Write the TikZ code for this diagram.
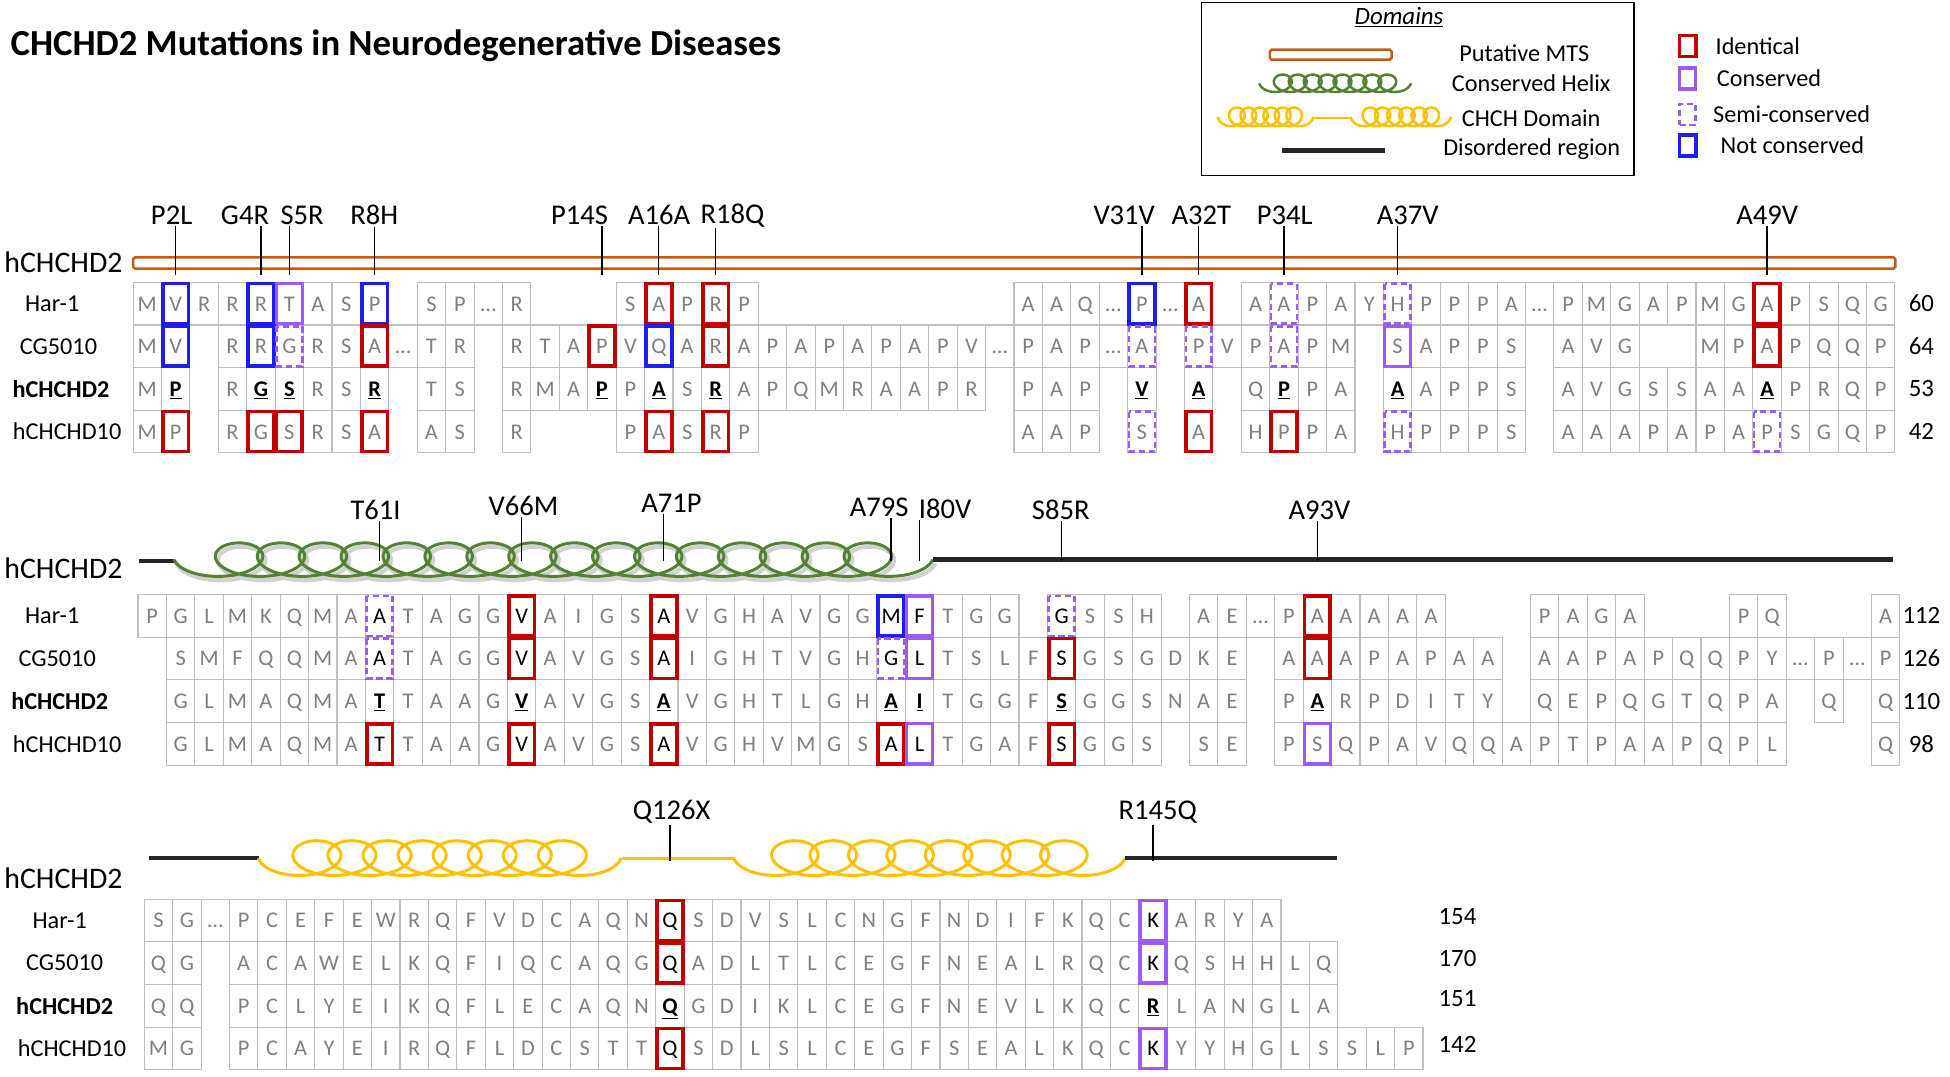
\documentclass[tikz,border=0pt]{standalone}
\usepackage{fontspec}
\setmainfont{Carlito}
\usepackage{etoolbox}
\usepackage{tikz}

\definecolor{idred}{HTML}{C00000}
\definecolor{consp}{HTML}{9A5CF5}
\definecolor{ncblue}{HTML}{1E1EF0}
\definecolor{cellgray}{HTML}{BFBFBF}
\definecolor{seqgray}{HTML}{808080}
\definecolor{mtsorange}{HTML}{C55A11}
\definecolor{helixgreen}{HTML}{548235}
\definecolor{chchyellow}{HTML}{FFC000}

\newcommand\mutres[1]{\textcolor{black}{\textbf{\underline{#1}}}}
\newcommand\boxres[1]{\textcolor{black}{#1}}
\newcommand\seqrow[4]{%
  \foreach \ch [count=\i from 0] in {#4}{%
    \ifdefstring{\ch}{-}{}{\node[cell] (#1c\i) at ({#2+(\i+0.5)*22.85},#3) {\ch};}%
  }}
\newcommand\hlcell[2]{\draw[#1] ([shift={(1.5pt,-1.5pt)}]#2.north west) rectangle ([shift={(-1.5pt,1.5pt)}]#2.south east);}
\newcommand\coil[8]{\draw[#1] plot[domain=-90:#7, samples=#8] ({#2+\x/360*#4+#5*sin(\x)},{#3+#6*cos(\x)});}

\tikzset{
  cell/.style={draw=cellgray, line width=0.9pt, minimum width=22.85pt, minimum height=34.3pt,
    inner sep=0pt, text height=12pt, text depth=0pt, text=seqgray, font=\fontsize{18}{18}\selectfont},
  rowlab/.style={font=\fontsize{19.5}{20}\selectfont},
  blocklab/.style={anchor=west, font=\fontsize{24}{24}\selectfont},
  mutlab/.style={inner sep=1pt, font=\fontsize{23}{23}\selectfont},
  mutline/.style={black, line width=1.1pt},
  numlab/.style={font=\fontsize{20}{20}\selectfont},
  keytext/.style={anchor=west, font=\fontsize{19.5}{20}\selectfont},
  idbox/.style={draw=idred, line width=3pt},
  consbox/.style={draw=consp, line width=2.8pt},
  semibox/.style={draw=consp, line width=2pt, dash pattern=on 5pt off 3pt},
  ncbox/.style={draw=ncblue, line width=3pt},
  mtsbar/.style={draw=mtsorange, line width=2pt, rounded corners=1.5pt, inner sep=0pt},
  greencoil/.style={helixgreen, line width=2.4pt, line join=round},
  greenshadow/.style={black!18, line width=3.5pt, line join=round},
  yellowcoil/.style={chchyellow, line width=2.4pt, line join=round},
  disline/.style={black!85, line width=3.5pt}
}

\begin{document}
\begin{tikzpicture}[x=1pt, y=-1pt]
\useasboundingbox (0,0) rectangle (1568,866);

\node[anchor=west, font=\fontsize{29.5}{29.5}\selectfont\bfseries] (title) at (5,37) {CHCHD2 Mutations in Neurodegenerative Diseases};

\node[draw, line width=1.3pt, minimum width=348pt, minimum height=139pt, inner sep=0pt] (legend) at (1140,71.5) {};
\node[font=\fontsize{20}{20}\selectfont] (domains) at (1125,14) {\underline{\textit{Domains}}};
\node[mtsbar, minimum width=98pt, minimum height=8pt] (keymts) at (1070,44) {};
\node[keytext] (keymtsl) at (1170,43) {Putative MTS};
\coil{greencoil, line width=2pt}{1025.5}{67}{12}{10}{7}{2970}{340}
\node[keytext] (keyhelixl) at (1164,67) {Conserved Helix};
\coil{yellowcoil, line width=2pt}{990}{94}{9.2}{8.5}{7.5}{2250}{260}
\draw[yellowcoil, line width=2pt] (1056,95) -- (1086,95);
\coil{yellowcoil, line width=2pt}{1097}{94}{9.8}{8.5}{7.5}{2250}{260}
\node[keytext] (keychchl) at (1172,95) {CHCH Domain};
\draw[disline] (1031,121) -- (1114,121);
\node[keytext] (keydisl) at (1157,120) {Disordered region};

\node[idbox, minimum width=13pt, minimum height=17pt] (keyid) at (1357,37) {};
\node[keytext] (keyidl) at (1376,37) {Identical};
\node[consbox, minimum width=13pt, minimum height=17pt] (keycons) at (1357,63) {};
\node[keytext] (keyconsl) at (1377,63) {Conserved};
\node[semibox, minimum width=13pt, minimum height=17pt] (keysemi) at (1357,92) {};
\node[keytext] (keysemil) at (1374,92) {Semi-conserved};
\node[ncbox, minimum width=13pt, minimum height=17pt] (keync) at (1357,117) {};
\node[keytext] (keyncl) at (1380,117) {Not conserved};

\node[blocklab] (hd1) at (0,211) {hCHCHD2};
\node[mtsbar, minimum width=1417pt, minimum height=9pt] (mts) at (815.5,211.5) {};
\coordinate (mtsbot) at (0,221);
\node[rowlab] (lh1) at (42,244.15) {Har-1};
\node[rowlab] (lc1) at (47,278.45) {CG5010};
\node[rowlab, font=\fontsize{19.5}{20}\selectfont\bfseries] (ld1) at (49,312.75) {hCHCHD2};
\node[rowlab] (lt1) at (54,347.05) {hCHCHD10};
\seqrow{b1r0}{107}{244.15}{M,V,R,R,R,T,A,S,P,-,S,P,…,R,-,-,-,S,A,P,R,P,-,-,-,-,-,-,-,-,-,A,A,Q,…,P,…,A,-,A,A,P,A,Y,H,P,P,P,A,…,P,M,G,A,P,M,G,A,P,S,Q,G}
\seqrow{b1r1}{107}{278.45}{M,V,-,R,R,G,R,S,A,…,T,R,-,R,T,A,P,V,Q,A,R,A,P,A,P,A,P,A,P,V,…,P,A,P,…,A,-,P,V,P,A,P,M,-,S,A,P,P,S,-,A,V,G,-,-,M,P,A,P,Q,Q,P}
\seqrow{b1r2}{107}{312.75}{M,\mutres P,-,R,\mutres G,\mutres S,R,S,\mutres R,-,T,S,-,R,M,A,\mutres P,P,\mutres A,S,\mutres R,A,P,Q,M,R,A,A,P,R,-,P,A,P,-,\mutres V,-,\mutres A,-,Q,\mutres P,P,A,-,\mutres A,A,P,P,S,-,A,V,G,S,S,A,A,\mutres A,P,R,Q,P}
\seqrow{b1r3}{107}{347.05}{M,P,-,R,G,S,R,S,A,-,A,S,-,R,-,-,-,P,A,S,R,P,-,-,-,-,-,-,-,-,-,A,A,P,-,S,-,A,-,H,P,P,A,-,H,P,P,P,S,-,A,A,A,P,A,P,A,P,S,G,Q,P}
\foreach \col in {1,4,8,35} {\hlcell{ncbox}{b1r0c\col}}
\hlcell{consbox}{b1r0c5}
\foreach \col in {40,44} {\hlcell{semibox}{b1r0c\col}}
\foreach \col in {18,20,37,57} {\hlcell{idbox}{b1r0c\col}}
\foreach \col in {1,4,18} {\hlcell{ncbox}{b1r1c\col}}
\foreach \col in {5,35,37,40} {\hlcell{semibox}{b1r1c\col}}
\foreach \col in {8,16,20,57} {\hlcell{idbox}{b1r1c\col}}
\hlcell{consbox}{b1r1c44}
\foreach \col in {1,4,5,8,18,20,37,40} {\hlcell{idbox}{b1r3c\col}}
\foreach \col in {35,44,57} {\hlcell{semibox}{b1r3c\col}}
\node[numlab] (n1a) at (1545,244.15) {60};
\node[numlab] (n1b) at (1545,278.45) {64};
\node[numlab] (n1c) at (1545,312.75) {53};
\node[numlab] (n1d) at (1545,347.05) {42};
\node[mutlab] (mP2L) at (138,173) {P2L};
\node[mutlab] (mG4R) at (197,173) {G4R};
\node[mutlab] (mS5R) at (243,173) {S5R};
\node[mutlab] (mR8H) at (301,173) {R8H};
\node[mutlab] (mP14S) at (466,173) {P14S};
\node[mutlab] (mA16A) at (530,173) {A16A};
\node[mutlab] (mR18Q) at (589,173) {R18Q};
\node[mutlab] (mV31V) at (904,173) {V31V};
\node[mutlab] (mA32T) at (966,173) {A32T};
\node[mutlab] (mP34L) at (1033,173) {P34L};
\node[mutlab] (mA37V) at (1132,173) {A37V};
\node[mutlab] (mA49V) at (1421,173) {A49V};
\foreach \lab/\col in {P2L/1,G4R/4,S5R/5,R8H/8,P14S/16,A16A/18,R18Q/20,V31V/35,A32T/37,P34L/40,A37V/44,A49V/57}
  {\draw[mutline] (m\lab.south -| b1r2c\col) -- (mtsbot -| b1r2c\col);}

\node[blocklab] (hd2) at (0,457) {hCHCHD2};
\draw[disline] (112,451) -- (140,451);
\begin{scope}[xshift=2pt, yshift=-3pt]
\coil{greenshadow}{175.4}{450}{33.7}{27}{13.5}{5850}{700}
\end{scope}
\coil{greencoil}{175.4}{450}{33.7}{27}{13.5}{5850}{700}
\coordinate (g2end) at (750,450);
\draw[disline] (g2end) -- (1522,450);
\coordinate (dis2) at (0,451);
\node[rowlab] (lh2) at (42,495.15) {Har-1};
\node[rowlab] (lc2) at (46,529.45) {CG5010};
\node[rowlab, font=\fontsize{19.5}{20}\selectfont\bfseries] (ld2) at (48,563.75) {hCHCHD2};
\node[rowlab] (lt2) at (54,598.05) {hCHCHD10};
\seqrow{b2r0}{111}{495.15}{P,G,L,M,K,Q,M,A,\boxres A,T,A,G,G,\boxres V,A,I,G,S,\boxres A,V,G,H,A,V,G,G,\boxres M,\boxres F,T,G,G,-,\boxres G,S,S,H,-,A,E,…,P,A,A,A,A,A,-,-,-,P,A,G,A,-,-,-,P,Q,-,-,-,A}
\seqrow{b2r1}{111}{529.45}{-,S,M,F,Q,Q,M,A,\boxres A,T,A,G,G,\boxres V,A,V,G,S,\boxres A,I,G,H,T,V,G,H,\boxres G,\boxres L,T,S,L,F,\boxres S,G,S,G,D,K,E,-,A,A,A,P,A,P,A,A,-,A,A,P,A,P,Q,Q,P,Y,…,P,…,P}
\seqrow{b2r2}{111}{563.75}{-,G,L,M,A,Q,M,A,\mutres T,T,A,A,G,\mutres V,A,V,G,S,\mutres A,V,G,H,T,L,G,H,\mutres A,\mutres I,T,G,G,F,\mutres S,G,G,S,N,A,E,-,P,\mutres A,R,P,D,I,T,Y,-,Q,E,P,Q,G,T,Q,P,A,-,Q,-,Q}
\seqrow{b2r3}{111}{598.05}{-,G,L,M,A,Q,M,A,\boxres T,T,A,A,G,\boxres V,A,V,G,S,\boxres A,V,G,H,V,M,G,S,\boxres A,\boxres L,T,G,A,F,\boxres S,G,G,S,-,S,E,-,P,S,Q,P,A,V,Q,Q,A,P,T,P,A,A,P,Q,P,L,-,-,-,Q}
\foreach \col in {8,32} {\hlcell{semibox}{b2r0c\col}}
\foreach \col in {13,18,41} {\hlcell{idbox}{b2r0c\col}}
\hlcell{ncbox}{b2r0c26}
\hlcell{consbox}{b2r0c27}
\foreach \col in {8,26} {\hlcell{semibox}{b2r1c\col}}
\foreach \col in {13,18,32,41} {\hlcell{idbox}{b2r1c\col}}
\hlcell{consbox}{b2r1c27}
\foreach \col in {8,13,18,26,32} {\hlcell{idbox}{b2r3c\col}}
\foreach \col in {27,41} {\hlcell{consbox}{b2r3c\col}}
\node[numlab] (n2a) at (1545,495.15) {112};
\node[numlab] (n2b) at (1545,529.45) {126};
\node[numlab] (n2c) at (1545,563.75) {110};
\node[numlab] (n2d) at (1545,598.05) {98};
\node[mutlab] (mT61I) at (302,410) {T61I};
\node[mutlab] (mV66M) at (421,407) {V66M};
\node[mutlab] (mA71P) at (540,405) {A71P};
\node[mutlab] (mA79S) at (707,408) {A79S};
\node[mutlab] (mI80V) at (760,409) {I80V};
\node[mutlab] (mS85R) at (853,410) {S85R};
\node[mutlab] (mA93V) at (1061,410) {A93V};
\foreach \lab/\col in {T61I/8,V66M/13,A71P/18,A79S/26,I80V/27,S85R/32,A93V/41}
  {\draw[mutline] (m\lab.south -| b2r2c\col) -- (dis2 -| b2r2c\col);}

\node[blocklab] (hd3) at (0,706) {hCHCHD2};
\draw[disline] (120,690) -- (208,690);
\coil{yellowcoil}{240.7}{690}{28.2}{26}{14}{2970}{360}
\draw[yellowcoil] (500,690) -- (590,690);
\coil{yellowcoil}{623.7}{690}{30.9}{26}{14}{2970}{360}
\coordinate (y3end) at (905,690);
\draw[disline] (y3end) -- (1075,690);
\coordinate (dis3) at (0,692);
\node[rowlab] (lh3) at (48,740.15) {Har-1};
\node[rowlab] (lc3) at (52,774.45) {CG5010};
\node[rowlab, font=\fontsize{19.5}{20}\selectfont\bfseries] (ld3) at (52,808.75) {hCHCHD2};
\node[rowlab] (lt3) at (58,843.05) {hCHCHD10};
\seqrow{b3r0}{116}{740.15}{S,G,…,P,C,E,F,E,W,R,Q,F,V,D,C,A,Q,N,\boxres Q,S,D,V,S,L,C,N,G,F,N,D,I,F,K,Q,C,\boxres K,A,R,Y,A}
\seqrow{b3r1}{116}{774.45}{Q,G,-,A,C,A,W,E,L,K,Q,F,I,Q,C,A,Q,G,\boxres Q,A,D,L,T,L,C,E,G,F,N,E,A,L,R,Q,C,\boxres K,Q,S,H,H,L,Q}
\seqrow{b3r2}{116}{808.75}{Q,Q,-,P,C,L,Y,E,I,K,Q,F,L,E,C,A,Q,N,\mutres Q,G,D,I,K,L,C,E,G,F,N,E,V,L,K,Q,C,\mutres R,L,A,N,G,L,A}
\seqrow{b3r3}{116}{843.05}{M,G,-,P,C,A,Y,E,I,R,Q,F,L,D,C,S,T,T,\boxres Q,S,D,L,S,L,C,E,G,F,S,E,A,L,K,Q,C,\boxres K,Y,Y,H,G,L,S,S,L,P}
\foreach \r in {0,1,3} {\hlcell{idbox}{b3r\r c18} \hlcell{consbox}{b3r\r c35}}
\node[numlab] (n3a) at (1172,737) {154};
\node[numlab] (n3b) at (1172,771) {170};
\node[numlab] (n3c) at (1172,803) {151};
\node[numlab] (n3d) at (1172,840) {142};
\node[mutlab] (mQ126X) at (540,653) {Q126X};
\node[mutlab] (mR145Q) at (931,653) {R145Q};
\draw[mutline] (mQ126X.south -| b3r2c18) -- (dis3 -| b3r2c18);
\draw[mutline] (mR145Q.south -| b3r2c35) -- (dis3 -| b3r2c35);
\end{tikzpicture}
\end{document}
